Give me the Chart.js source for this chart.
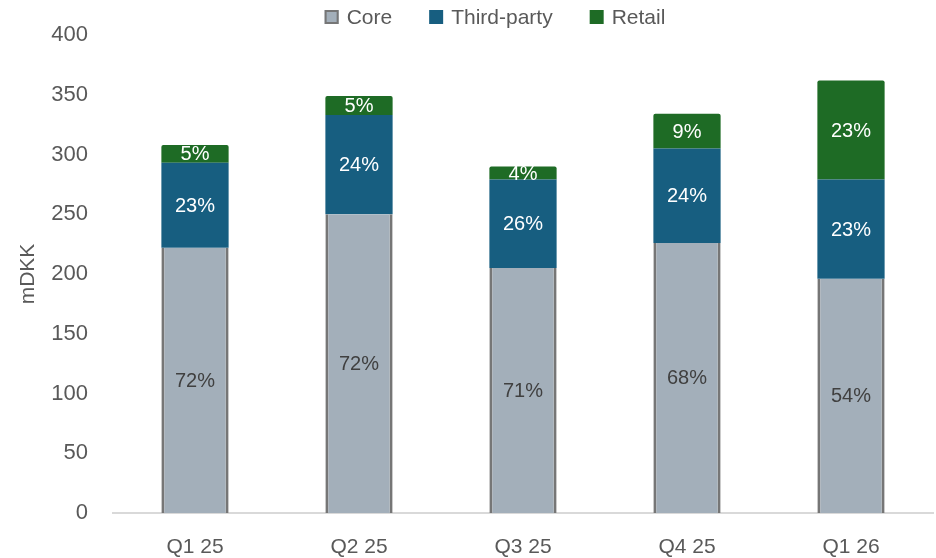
<!DOCTYPE html>
<html>
<head>
<meta charset="utf-8">
<script src="https://cdn.jsdelivr.net/npm/chart.js@4.4.1/dist/chart.umd.min.js"></script>
<style>
    html, body { margin: 0; padding: 0; background: #ffffff; }
    #wrap { width: 936px; height: 558px; position: relative; }
</style>
</head>
<body>
<div id="wrap"><canvas id="chart" width="936" height="558"></canvas></div>
<script>
// revenue by quarter, mDKK
const quarters = ['Q1 25', 'Q2 25', 'Q3 25', 'Q4 25', 'Q1 26'];
const coreValues = [222, 250, 205, 226, 196];
const thirdPartyValues = [71, 83, 74, 79, 83];
const retailValues = [15, 16, 11, 29, 83];
const yTicks = [0, 50, 100, 150, 200, 250, 300, 350, 400];

const FONT = "'Liberation Sans', Arial, sans-serif";
const TEXT_GRAY = '#595959';

const totals = quarters.map((q, i) => coreValues[i] + thirdPartyValues[i] + retailValues[i]);

// share of the quarter's total, written inside each segment
const shareLabels = {
    id: 'shareLabels',
    afterDatasetsDraw(chart) {
        const ctx = chart.ctx;
        ctx.save();
        ctx.font = '20px ' + FONT;
        ctx.textAlign = 'center';
        ctx.textBaseline = 'middle';
        chart.data.datasets.forEach((ds, di) => {
            const meta = chart.getDatasetMeta(di);
            meta.data.forEach((bar, i) => {
                const pct = Math.round(ds.data[i] / totals[i] * 100);
                const { x, y, base } = bar.getProps(['x', 'y', 'base'], true);
                ctx.fillStyle = ds.labelColor;
                ctx.fillText(pct + '%', x, (y + base) / 2 + 1);
            });
        });
        ctx.restore();
    }
};

// legend row across the top
const topLegend = {
    id: 'topLegend',
    afterDraw(chart) {
        const ctx = chart.ctx;
        const box = 14, gapText = 8, gapItem = 37, centerX = 495, midY = 17;
        ctx.save();
        ctx.font = '21px ' + FONT;
        ctx.textBaseline = 'middle';
        const items = chart.data.datasets.map(ds => ({
            text: ds.label,
            fill: ds.backgroundColor,
            stroke: ds.legendBorder,
            w: box + gapText + ctx.measureText(ds.label).width
        }));
        const total = items.reduce((s, it) => s + it.w, 0) + gapItem * (items.length - 1);
        let x = centerX - total / 2;
        items.forEach(it => {
            ctx.fillStyle = it.fill;
            ctx.fillRect(x, midY - box / 2, box, box);
            if (it.stroke) {
                ctx.strokeStyle = it.stroke;
                ctx.lineWidth = 2;
                ctx.strokeRect(x + 1, midY - box / 2 + 1, box - 2, box - 2);
            }
            ctx.fillStyle = TEXT_GRAY;
            ctx.fillText(it.text, x + box + gapText, midY + 1);
            x += it.w + gapItem;
        });
        ctx.restore();
    }
};

new Chart(document.getElementById('chart'), {
    type: 'bar',
    data: {
        labels: quarters,
        datasets: [
            {
                label: 'Core',
                data: coreValues,
                backgroundColor: '#a3afba',
                borderColor: '#767676',
                borderWidth: { left: 3, right: 3, top: 0, bottom: 0 },
                borderSkipped: false,
                legendBorder: '#767676',
                labelColor: '#404040'
            },
            {
                label: 'Third-party',
                data: thirdPartyValues,
                backgroundColor: '#175e80',
                borderWidth: 0,
                labelColor: '#ffffff'
            },
            {
                label: 'Retail',
                data: retailValues,
                backgroundColor: '#1e6b25',
                borderWidth: 0,
                borderRadius: { topLeft: 2, topRight: 2, bottomLeft: 0, bottomRight: 0 },
                borderSkipped: false,
                labelColor: '#ffffff'
            }
        ]
    },
    options: {
        responsive: false,
        animation: false,
        layout: { padding: { top: 35, right: 3, left: 0, bottom: 0 } },
        datasets: {
            bar: { categoryPercentage: 1, barPercentage: 0.41 }
        },
        plugins: {
            legend: { display: false },
            tooltip: { enabled: false }
        },
        scales: {
            x: {
                stacked: true,
                grid: { display: false },
                border: { display: true, color: '#d9d9d9', width: 2 },
                ticks: {
                    color: TEXT_GRAY,
                    font: { family: FONT, size: 21 },
                    padding: 14,
                    maxRotation: 0
                },
                afterFit: (scale) => { scale.height = 45; }
            },
            y: {
                stacked: true,
                min: 0,
                max: 400,
                grid: { display: false },
                border: { display: false },
                afterBuildTicks: (scale) => { scale.ticks = yTicks.map(v => ({ value: v })); },
                ticks: {
                    color: TEXT_GRAY,
                    font: { family: FONT, size: 22 },
                    padding: 17
                },
                title: {
                    display: true,
                    text: 'mDKK',
                    color: TEXT_GRAY,
                    font: { family: FONT, size: 21 },
                    padding: { top: 16, bottom: 0 }
                },
                afterFit: (scale) => { scale.width = 113; }
            }
        }
    },
    plugins: [shareLabels, topLegend]
});
</script>
</body>
</html>
